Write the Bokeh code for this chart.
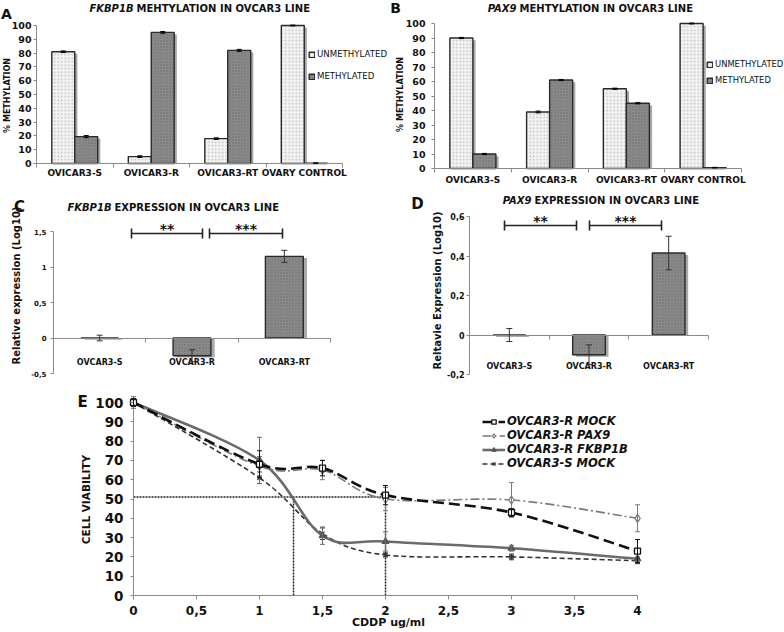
import math
from bokeh.plotting import figure
from bokeh.models import (Range1d, FixedTicker, Label, Whisker, ColumnDataSource,
                          TeeHead, Legend, LegendItem)
from bokeh.layouts import column, row
from bokeh.embed import file_html
from bokeh.resources import INLINE

# ---------------------------------------------------------------- data
meth_categories = ["OVICAR3-S", "OVICAR3-R", "OVICAR3-RT", "OVARY CONTROL"]
meth_series = ["UNMETHYLATED", "METHYLATED"]
fkbp_unmeth = [81, 5, 18, 100]
fkbp_unmeth_err = [0.6, 0.6, 0.6, 0.3]
fkbp_meth = [19.5, 95, 82, 0.3]
fkbp_meth_err = [0.8, 0.6, 0.7, 0.2]
pax9_unmeth = [90, 39, 55, 100]
pax9_unmeth_err = [0.4, 0.6, 0.4, 0.3]
pax9_meth = [10, 61, 45, 0.6]
pax9_meth_err = [0.4, 0.4, 0.4, 0.2]

expr_categories = ["OVCAR3-S", "OVCAR3-R", "OVCAR3-RT"]
fkbp_expr = [0.0, -0.25, 1.15]
fkbp_expr_err = [0.04, 0.085, 0.085]
pax9_expr = [0.0, -0.1, 0.415]
pax9_expr_err = [0.033, 0.05, 0.085]
sig_labels = ["**", "***"]

doses = [0, 1, 1.5, 2, 3, 4]
viab_series = ["OVCAR3-R MOCK", "OVCAR3-R PAX9", "OVCAR3-R FKBP1B", "OVCAR3-S MOCK"]
r_mock = [100, 68, 66, 52, 43, 23]
r_mock_err = [2, 7, 4, 5, 2, 6]
r_pax9 = [100, 67, 65, 50, 49.5, 40]
r_pax9_err = [2, 5, 5, 6, 9, 7]
r_fkbp = [100, 70, 31, 28, 24.5, 19]
r_fkbp_err = [3, 12, 4.5, 5, 1.5, 1]
s_mock = [100, 61, 32, 21, 20, 18]
s_mock_err = [2, 3, 3, 1, 1.5, 1.5]
ic50_level = 51
ic50_doses = [1.27, 2.0]

# ---------------------------------------------------------------- styles
FONT = "DejaVu Sans"
AXIS = "#8a8a8a"
INK = "#111111"
LIGHT = dict(fill_color="#f3f3f3", hatch_pattern="dot", hatch_color="#bdbdbd",
             hatch_scale=3.5, hatch_weight=1.0)
DARK = dict(fill_color="#8e8e8e", hatch_pattern="diagonal_cross", hatch_color="#767676",
            hatch_scale=3, hatch_weight=0.7)
OUTLINE = dict(line_color="#2a2a2a", line_width=1.4)
SHADOW = dict(fill_color="#a9a9a9", line_color=None)


def comma_overrides(vals):
    out = {}
    for v in vals:
        key = int(v) if float(v).is_integer() else v
        out[key] = ("%g" % v).replace(".", ",")
    return out


class Panel:
    """A figure whose frame fills the canvas; the data box sits at pixels L..R, T..B."""

    def __init__(self, W, H, L, R, T, B, xr, yr):
        self.pxu = (R - L) / (xr[1] - xr[0])
        self.pyu = (B - T) / (yr[1] - yr[0])
        self.xs = xr[0] - L / self.pxu
        self.ye = yr[1] + T / self.pyu
        xe = xr[1] + (W - R) / self.pxu
        ys = yr[0] - (H - B) / self.pyu
        p = figure(width=W, height=H, x_range=Range1d(self.xs, xe),
                   y_range=Range1d(ys, self.ye), output_backend="svg",
                   toolbar_location=None, tools="", min_border=0,
                   min_border_left=0, min_border_right=0, min_border_top=0,
                   min_border_bottom=0)
        p.xgrid.visible = False
        p.ygrid.visible = False
        p.outline_line_color = None
        p.background_fill_color = "white"
        p.border_fill_color = "white"
        p.xaxis.fixed_location = 0
        p.xaxis.bounds = xr
        p.yaxis.fixed_location = xr[0]
        p.yaxis.bounds = yr
        for ax in p.axis:
            ax.axis_line_color = AXIS
            ax.major_tick_line_color = AXIS
            ax.minor_tick_line_color = None
            ax.major_tick_in = 0
            ax.major_tick_out = 3
            ax.major_label_text_font = FONT
            ax.major_label_text_font_style = "bold"
            ax.major_label_text_color = INK
        self.p = p

    def X(self, px):
        return self.xs + px / self.pxu

    def Y(self, py):
        return self.ye - py / self.pyu

    def text(self, px, py, text, size, style="bold", align="center", baseline="middle",
             angle=0.0, x_offset=0, y_offset=0):
        self.p.add_layout(Label(x=self.X(px), y=self.Y(py), text=text, text_font=FONT,
                                text_font_size=size, text_font_style=style,
                                text_align=align, text_baseline=baseline, angle=angle,
                                x_offset=x_offset, y_offset=y_offset, text_color=INK))

    def title(self, px, py, gene, rest, size="10px"):
        self.text(px, py, gene, size, style="bold italic", align="right")
        self.text(px, py, rest, size, align="left", x_offset=3)


def category_axis(p, cats, label_size, standoff):
    centers = [i + 0.5 for i in range(len(cats))]
    bounds = list(range(len(cats) + 1))
    ax = p.xaxis[0]
    ax.ticker = FixedTicker(ticks=centers, minor_ticks=bounds)
    ax.major_label_overrides = {c: name for c, name in zip(centers, cats)}
    ax.major_tick_line_color = None
    ax.minor_tick_line_color = AXIS
    ax.minor_tick_in = 0
    ax.minor_tick_out = 4
    ax.major_tick_out = 4
    ax.major_label_standoff = standoff
    ax.major_label_text_font_size = label_size
    return centers


def whiskers(p, base, vals, errs, color="black", size=5, width=1.0):
    src = ColumnDataSource(dict(base=base, upper=[v + e for v, e in zip(vals, errs)],
                                lower=[v - e for v, e in zip(vals, errs)]))
    p.add_layout(Whisker(base="base", upper="upper", lower="lower", source=src,
                         line_color=color, line_width=width, level="overlay",
                         upper_head=TeeHead(size=size, line_color=color, line_width=width),
                         lower_head=TeeHead(size=size, line_color=color, line_width=width)))


def methylation_chart(W, H, box, unmeth, unmeth_err, meth, meth_err, gene, letter,
                      letter_px, title_px, ylabel_px, tick_standoff, xlab_standoff,
                      legend_px, legend_spacing, legend_size):
    P = Panel(W, H, *box, (0, 4), (0, 100))
    p = P.p
    centers = category_axis(p, meth_categories, "9px", xlab_standoff)
    p.yaxis.ticker = FixedTicker(ticks=list(range(0, 101, 10)))
    p.yaxis.major_label_text_font_size = "9.5px"
    p.yaxis.major_label_standoff = tick_standoff
    xu = [c - 0.15 for c in centers]
    xm = [c + 0.15 for c in centers]
    for xs, vals in ((xu, unmeth), (xm, meth)):
        p.vbar(x=[x + 0.035 for x in xs], top=[max(v - 1.5, 0) for v in vals], bottom=0,
               width=0.3, **SHADOW)
    r_u = p.vbar(x=xu, top=unmeth, bottom=0, width=0.3, **LIGHT, **OUTLINE)
    r_m = p.vbar(x=xm, top=meth, bottom=0, width=0.3, **DARK, **OUTLINE)
    whiskers(p, xu, unmeth, unmeth_err, size=5)
    whiskers(p, xm, meth, meth_err, size=5)
    p.add_layout(Legend(items=[LegendItem(label=meth_series[0], renderers=[r_u]),
                               LegendItem(label=meth_series[1], renderers=[r_m])],
                        location=legend_px, orientation="vertical", glyph_width=7,
                        glyph_height=7, label_height=7, label_standoff=2,
                        spacing=legend_spacing, padding=0, margin=0,
                        border_line_color=None, background_fill_alpha=0,
                        label_text_font=FONT, label_text_font_size=legend_size,
                        label_text_color=INK))
    P.text(*letter_px, letter, "14px")
    P.title(*title_px, gene, "MEHTYLATION IN OVCAR3 LINE")
    P.text(*ylabel_px, "% METHYLATION", "8px", angle=math.pi / 2)
    return p


def expression_chart(W, H, box, yr, yticks, tick_size, tick_standoff, vals, errs, gene,
                     ylabel, letter, letter_px, title_px, ylabel_px, brackets_px,
                     bracket_py, xlab_standoff):
    P = Panel(W, H, *box, (0, 3), yr)
    p = P.p
    centers = category_axis(p, expr_categories, "8px", xlab_standoff)
    p.yaxis.ticker = FixedTicker(ticks=yticks)
    p.yaxis.major_label_overrides = comma_overrides(yticks)
    p.yaxis.major_label_text_font_size = tick_size
    p.yaxis.major_label_standoff = tick_standoff
    bw = 0.41
    d = 0.012 * (yr[1] - yr[0])
    p.vbar(x=[c + 0.04 for c in centers], top=[v - d if v > 0 else 0 for v in vals],
           bottom=[0 if v > 0 else v - d for v in vals], width=bw, **SHADOW)
    p.vbar(x=centers, top=vals, bottom=0, width=bw, **DARK, **OUTLINE)
    whiskers(p, centers, vals, errs, color="#333333", size=6)
    by = P.Y(bracket_py)
    spans = [(P.X(a), P.X(b)) for a, b in brackets_px]
    src = ColumnDataSource(dict(base=[by] * len(spans), lower=[s[0] for s in spans],
                                upper=[s[1] for s in spans]))
    p.add_layout(Whisker(base="base", lower="lower", upper="upper", source=src,
                         dimension="width", line_color="#222222", line_width=1.6,
                         level="overlay",
                         upper_head=TeeHead(size=10, line_color="#222222", line_width=1.6),
                         lower_head=TeeHead(size=10, line_color="#222222", line_width=1.6)))
    for (a, b), s in zip(brackets_px, sig_labels):
        P.text((a + b) / 2, bracket_py, s, "14px", baseline="alphabetic", y_offset=5)
    P.text(*letter_px, letter, "15px")
    P.title(*title_px, gene, "EXPRESSION IN OVCAR3 LINE")
    P.text(*ylabel_px, ylabel, "10px", angle=math.pi / 2)
    return p


# ---------------------------------------------------------------- panels A, B
pA = methylation_chart(388, 184, (36, 342, 25, 163), fkbp_unmeth, fkbp_unmeth_err,
                       fkbp_meth, fkbp_meth_err, "FKBP1B", "A",
                       (6, 13), (133, 8), (7, 95), 2, 0,
                       (308, 103), 12, "8.6px")
pB = methylation_chart(396, 184, (46, 353, 23, 168), pax9_unmeth, pax9_unmeth_err,
                       pax9_meth, pax9_meth_err, "PAX9", "B",
                       (7, 7), (128, 8), (12, 94), 6, 2,
                       (318, 99), 6, "8.4px")

# ---------------------------------------------------------------- panels C, D
pC = expression_chart(388, 198, (53, 330, 47, 189), (-0.5, 1.5), [-0.5, 0, 0.5, 1, 1.5],
                      "7px", 4, fkbp_expr, fkbp_expr_err, "FKBP1B",
                      "Relative expression (Log10)", "C", (19, 22), (111, 23), (16, 101),
                      [(131, 202), (209, 282)], 49, 16)
pD = expression_chart(396, 198, (81, 320, 32, 190), (-0.2, 0.6), [-0.2, 0, 0.2, 0.4, 0.6],
                      "8px", 2, pax9_expr, pax9_expr_err, "PAX9",
                      "Reltavie Expression (Log10)", "D", (29, 19), (143, 16), (49, 106),
                      [(116, 188), (201, 273)], 41, 23)

# ---------------------------------------------------------------- panel E
PE = Panel(784, 250, 133, 637, 20, 213, (0, 4), (0, 100))
pE = PE.p
xt = [i * 0.5 for i in range(9)]
pE.xaxis.ticker = FixedTicker(ticks=xt)
pE.xaxis.major_label_overrides = comma_overrides(xt)
pE.xaxis.major_label_text_font_size = "12px"
pE.xaxis.major_label_standoff = 6
pE.xaxis.major_tick_out = 4
pE.yaxis.ticker = FixedTicker(ticks=list(range(0, 101, 10)))
pE.yaxis.major_label_text_font_size = "13.5px"
pE.yaxis.major_label_standoff = 7

# IC50 guide lines
pE.segment(x0=[0] + ic50_doses, y0=[ic50_level] + [0] * len(ic50_doses),
           x1=[max(ic50_doses)] + ic50_doses, y1=[ic50_level] * (len(ic50_doses) + 1),
           line_color="#222222", line_width=1.5, line_dash="2 1")


def smooth_source(xs, ys):
    n = len(xs)
    d = dict(x0=[], y0=[], x1=[], y1=[], cx0=[], cy0=[], cx1=[], cy1=[])
    for i in range(n - 1):
        xm, ym = (xs[i - 1], ys[i - 1]) if i > 0 else (xs[i], ys[i])
        xp, yp = (xs[i + 2], ys[i + 2]) if i + 2 < n else (xs[i + 1], ys[i + 1])
        d["x0"].append(xs[i]); d["y0"].append(ys[i])
        d["x1"].append(xs[i + 1]); d["y1"].append(ys[i + 1])
        d["cx0"].append(xs[i] + (xs[i + 1] - xm) / 6)
        d["cy0"].append(ys[i] + (ys[i + 1] - ym) / 6)
        d["cx1"].append(xs[i + 1] - (xp - xs[i]) / 6)
        d["cy1"].append(ys[i + 1] - (yp - ys[i]) / 6)
    return ColumnDataSource(d)


series_data = [
    (s_mock, s_mock_err, dict(line_color="#333333", line_width=1.6, line_dash="5 3"),
     dict(marker="x", size=6, line_color="#333333", line_width=1.3)),
    (r_fkbp, r_fkbp_err, dict(line_color="#6b6b6b", line_width=2.6),
     dict(marker="triangle", size=7, fill_color="#555555", line_color="#555555")),
    (r_pax9, r_pax9_err, dict(line_color="#7a7a7a", line_width=1.6, line_dash="9 3 2 3"),
     dict(marker="diamond", size=8, fill_color="white", line_color="#777777", line_width=1.2)),
    (r_mock, r_mock_err, dict(line_color="#111111", line_width=2.6, line_dash="11 5"),
     dict(marker="square", size=6, fill_color="white", line_color="#111111", line_width=1.3)),
]
names_in_draw_order = [viab_series[3], viab_series[2], viab_series[1], viab_series[0]]
items = {}
for (vals, errs, lstyle, mstyle), name in zip(series_data, names_in_draw_order):
    rl = pE.bezier(x0="x0", y0="y0", x1="x1", y1="y1", cx0="cx0", cy0="cy0",
                   cx1="cx1", cy1="cy1", source=smooth_source(doses, vals), **lstyle)
    whiskers(pE, doses, vals, errs, color=lstyle["line_color"], size=5, width=1.0)
    rm = pE.scatter(doses, vals, **mstyle)
    items[name] = [rl, rm]

pE.add_layout(Legend(items=[LegendItem(label=n, renderers=items[n]) for n in viab_series],
                     location=(482, 162), orientation="vertical", glyph_width=23,
                     glyph_height=11, label_height=11, label_standoff=2, spacing=-2,
                     padding=0, margin=0, border_line_color=None, background_fill_alpha=0,
                     label_text_font=FONT, label_text_font_style="bold italic",
                     label_text_font_size="11.5px", label_text_color=INK))
PE.text(82, 19, "E", "15px")
PE.text(85, 117, "CELL VIABILITY", "10.5px", angle=math.pi / 2)
PE.text(388, 240, "CDDP ug/ml", "11px")

layout = column(row(pA, pB), row(pC, pD), pE)
open("out.html", "w").write(file_html(layout, INLINE))
